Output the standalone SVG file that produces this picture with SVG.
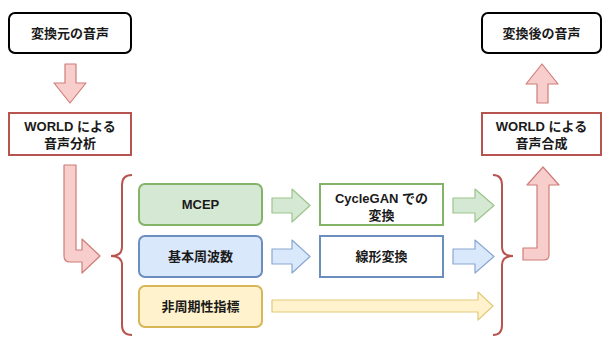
<svg xmlns="http://www.w3.org/2000/svg" width="603" height="338" viewBox="0 0 603 338">
  <style>
    text { font-family: "Liberation Sans", "Noto Sans CJK JP", sans-serif; font-weight: bold; font-size: 13px; fill: #1a1a1a; text-anchor: middle; }
    .plain { fill: #ffffff; stroke: #000000; stroke-width: 2; }
    .red { fill: #ffffff; stroke: #b85450; stroke-width: 2; }
    .green { fill: #d5e8d4; stroke: #82b366; stroke-width: 2; }
    .blue { fill: #dae8fc; stroke: #6c8ebf; stroke-width: 2; }
    .yellow { fill: #fff2cc; stroke: #d6b656; stroke-width: 2; }
    .green-o { fill: #ffffff; stroke: #82b366; stroke-width: 2; }
    .blue-o { fill: #ffffff; stroke: #6c8ebf; stroke-width: 2; }
    .a-red { fill: #f8cecc; stroke: #cf7d79; stroke-width: 1.2; stroke-linejoin: round; }
    .a-green { fill: #d5e8d4; stroke: #9cc48a; stroke-width: 1.2; stroke-linejoin: round; }
    .a-blue { fill: #dae8fc; stroke: #8aa7d2; stroke-width: 1.2; stroke-linejoin: round; }
    .a-yellow { fill: #fff2cc; stroke: #e2c97a; stroke-width: 1.2; stroke-linejoin: round; }
    .brace { fill: none; stroke: #b85450; stroke-width: 2; }
  </style>
  <rect width="603" height="338" fill="#ffffff"/>

  <!-- connectors: block arrows and braces -->
  <g id="connectors">
    <path class="a-red" d="M65,64 H76 V83 H86 L70,103 L54,83 H65 Z"/>
    <path class="a-red" d="M64,165 H76 V250 H82 V239 L100,256 L82,273 V262 H70 Q64,262 64,256 Z"/>
    <path class="a-red" d="M537,103 H548 V84 H558 L542,64 L526,84 H537 Z"/>
    <path class="a-red" d="M523,248 H537 V185 H527 L543,167 L559,185 H549 V255 Q549,260 544,260 H523 Z"/>
    <path class="a-green" d="M272,198 H292 V189 L310,205.5 L292,222 V213 H272 Z"/>
    <path class="a-green" d="M453,198 H475 V189 L494,205.5 L475,222 V213 H453 Z"/>
    <path class="a-blue" d="M272,249 H292 V240 L310,256.5 L292,273 V264 H272 Z"/>
    <path class="a-blue" d="M453,249 H475 V240 L494,256.5 L475,273 V264 H453 Z"/>
    <path class="a-yellow" d="M272,300 H478 V292 L493,306 L478,320 V312 H272 Z"/>
    <path class="brace" d="M132,175 Q122,175 122,185 V247 Q122,256 111,256 Q122,256 122,265 V325 Q122,335 132,335"/>
    <path class="brace" d="M493,175 Q502,175 502,185 V247 Q502,256 513,256 Q502,256 502,265 V325 Q502,335 493,335"/>
  </g>

  <g id="source-voice">
    <rect class="plain" x="9" y="13" width="122" height="40" rx="6"/>
    <text x="70" y="38">変換元の音声</text>
  </g>
  <g id="world-analysis">
    <rect class="red" x="9" y="113" width="122" height="42"/>
    <text x="70" y="131">WORLD による</text>
    <text x="70" y="148">音声分析</text>
  </g>
  <g id="mcep">
    <rect class="green" x="139" y="184" width="123" height="41" rx="6"/>
    <text x="200.5" y="209">MCEP</text>
  </g>
  <g id="f0">
    <rect class="blue" x="139" y="236" width="123" height="41" rx="6"/>
    <text x="200.5" y="261">基本周波数</text>
  </g>
  <g id="aperiodicity">
    <rect class="yellow" x="139" y="286" width="123" height="41" rx="6"/>
    <text x="200.5" y="311">非周期性指標</text>
  </g>
  <g id="cyclegan">
    <rect class="green-o" x="320" y="184" width="123" height="41"/>
    <text x="381.5" y="203">CycleGAN での</text>
    <text x="381.5" y="220">変換</text>
  </g>
  <g id="linear">
    <rect class="blue-o" x="320" y="236" width="123" height="41"/>
    <text x="381.5" y="261">線形変換</text>
  </g>
  <g id="world-synthesis">
    <rect class="red" x="482" y="113" width="119" height="42"/>
    <text x="541.5" y="131">WORLD による</text>
    <text x="541.5" y="148">音声合成</text>
  </g>
  <g id="target-voice">
    <rect class="plain" x="482" y="13" width="119" height="40" rx="6"/>
    <text x="541.5" y="38">変換後の音声</text>
  </g>
</svg>
